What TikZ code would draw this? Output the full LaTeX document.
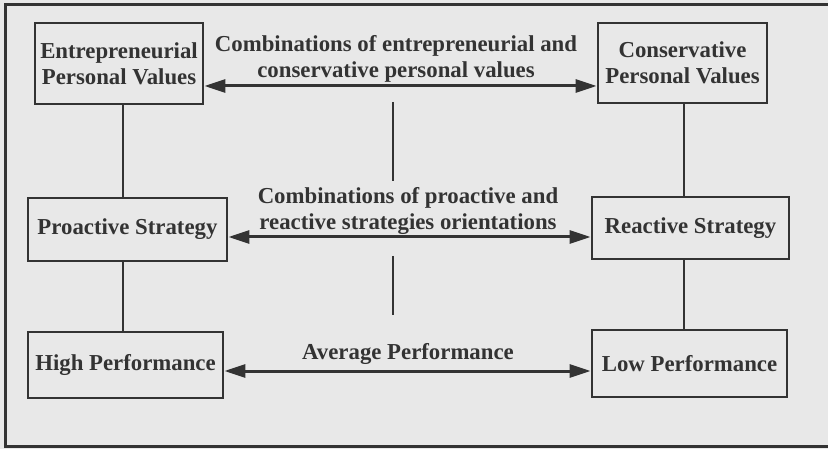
\documentclass[tikz,border=0pt]{standalone}
\usepackage{fontspec}
\setmainfont{Liberation Serif}
\usetikzlibrary{arrows.meta}
\definecolor{ink}{HTML}{333333}
\definecolor{paper}{HTML}{E8E8E8}
\begin{document}
\begin{tikzpicture}[x=1pt,y=-1pt,
  txt/.style={font=\fontsize{22.8}{26}\selectfont\bfseries, text=ink, align=center, inner sep=0pt},
  box/.style={txt, draw=ink, line width=2.8pt},
  conn/.style={draw=ink, line width=2.2pt},
  divider/.style={draw=ink, line width=2.8pt},
  twoway/.style={draw=ink, line width=3pt, {Triangle[length=21pt,width=13pt]}-{Triangle[length=21pt,width=13pt]}}
]
% page and outer frame
\fill[paper] (0,0) rectangle (828,449);
\useasboundingbox (0,0) rectangle (828,449);
\draw[ink, line width=2.2pt] (828,4.5) -- (5.5,4.5) -- (5.5,446.5) -- (828,446.5);

% boxes
\node[box, minimum width=168pt, minimum height=81pt] (epv) at (119,63.5) {Entrepreneurial\\Personal Values};
\node[box, minimum width=169pt, minimum height=80pt] (cpv) at (682.5,63) {Conservative\\Personal Values};
\node[box, minimum width=199pt, minimum height=63pt] (ps) at (127.5,229.5) {Proactive Strategy};
\node[box, minimum width=197pt, minimum height=62pt] (rs) at (690.5,228) {Reactive Strategy};
\node[box, minimum width=195pt, minimum height=66pt] (hp) at (125.5,365) {High Performance};
\node[box, minimum width=195pt, minimum height=67pt] (lp) at (689.5,363.5) {Low Performance};

% labels between the columns
\node[txt] (lab1) at (396,59) {Combinations of entrepreneurial and\\conservative personal values};
\node[txt] (lab2) at (408,211) {Combinations of proactive and\\reactive strategies orientations};
\node[txt] (lab3) at (408,354) {Average Performance};

% reference positions
\coordinate (xl) at (123,0);
\coordinate (xr) at (684,0);
\coordinate (y1) at (0,86);
\coordinate (y2) at (0,237);
\coordinate (y3) at (0,371);

% vertical links in each column
\draw[conn] (epv.south -| xl) -- (ps.north -| xl);
\draw[conn] (ps.south -| xl) -- (hp.north -| xl);
\draw[conn] (cpv.south -| xr) -- (rs.north -| xr);
\draw[conn] (rs.south -| xr) -- (lp.north -| xr);

% two-way arrows
\draw[twoway] (epv.east |- y1) -- (cpv.west |- y1);
\draw[twoway] (ps.east |- y2) -- (rs.west |- y2);
\draw[twoway] (hp.east |- y3) -- (lp.west |- y3);

% central dividers
\coordinate (d1a) at (393,102);
\coordinate (d1b) at (393,181);
\coordinate (d2a) at (393,256);
\coordinate (d2b) at (393,315);
\draw[divider] (d1a) -- (d1b);
\draw[divider] (d2a) -- (d2b);
\end{tikzpicture}
\end{document}
